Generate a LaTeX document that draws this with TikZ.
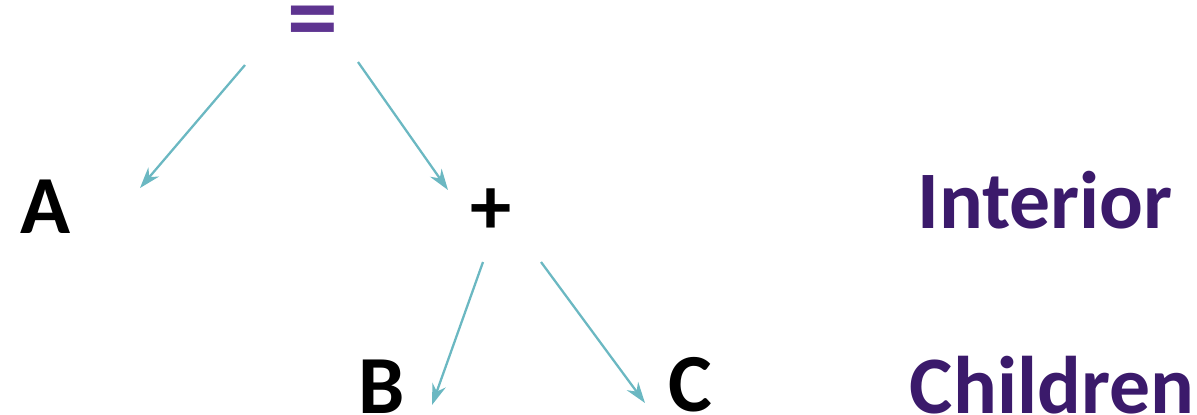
\documentclass[tikz,border=0pt]{standalone}
\usepackage{fontspec}
\setmainfont{Carlito}
\usetikzlibrary{arrows.meta}
\definecolor{lblpurple}{HTML}{3B1A6B}
\definecolor{eqpurple}{HTML}{5E3490}
\definecolor{arrowteal}{HTML}{6BB8C2}
\tikzset{
  sym/.style={font=\bfseries\fontsize{47}{47}\selectfont, text=black, inner sep=0pt},
  lbl/.style={font=\bfseries\fontsize{46.5}{46.5}\selectfont, text=lblpurple, inner sep=0pt},
  edge/.style={draw=arrowteal, line width=1.3pt, -{Stealth[length=12pt,width=8pt]}}
}
\begin{document}
\begin{tikzpicture}[x=0.02cm,y=-0.02cm]
\useasboundingbox (0,0) rectangle (1197,414);
\node[sym, text=eqpurple, font=\bfseries\fontsize{58}{58}\selectfont] (eq) at (313,29) {=};
\node[sym] (A) at (46,207) {A};
\node[sym] (plus) at (491,212) {+};
\node[sym] (B) at (382,387) {B};
\node[sym] (C) at (690,385) {C};
\node[lbl] (interior) at (1045,200) {Interior};
\node[lbl] (children) at (1052,385) {Children};
\coordinate (e1s) at (245,65);
\coordinate (e1e) at (140,188);
\coordinate (e2s) at (358,62);
\coordinate (e2e) at (448,190);
\coordinate (e3s) at (483,262);
\coordinate (e3e) at (432,405);
\coordinate (e4s) at (541,262);
\coordinate (e4e) at (645,403);
\draw[edge] (e1s) -- (e1e);
\draw[edge] (e2s) -- (e2e);
\draw[edge] (e3s) -- (e3e);
\draw[edge] (e4s) -- (e4e);
\end{tikzpicture}
\end{document}
